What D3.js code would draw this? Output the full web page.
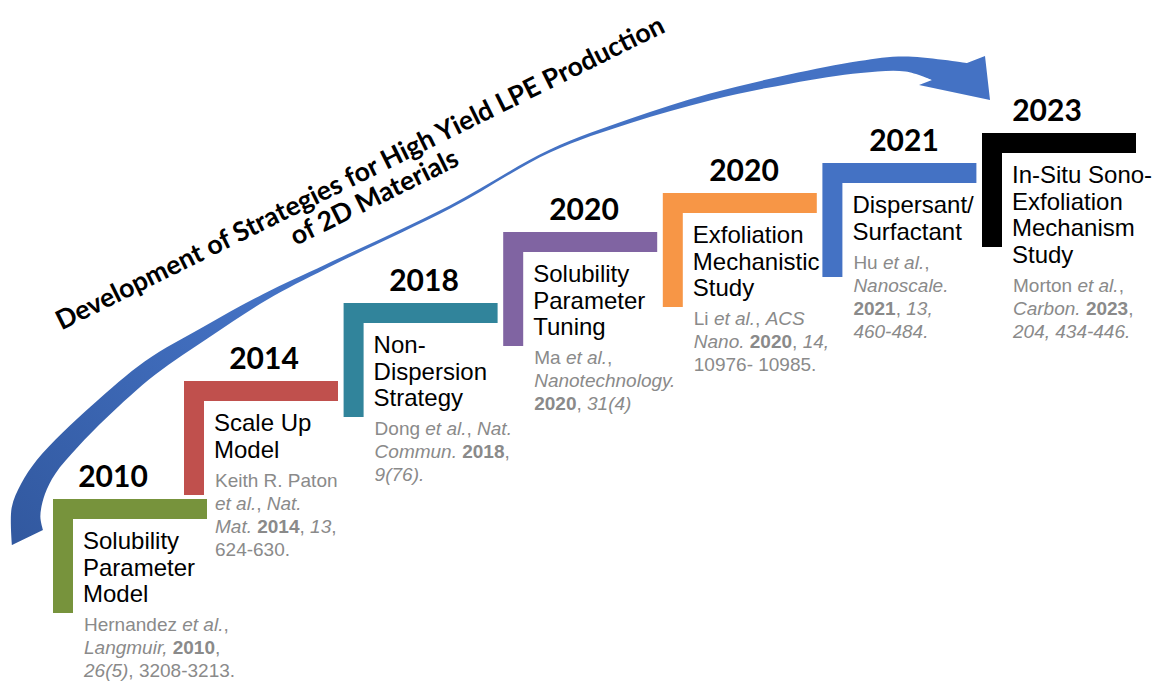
<!DOCTYPE html>
<html>
<head>
  <meta charset='utf-8'>
  <style>
    body { margin: 0; background: #fff; }
    svg { display: block; }
  </style>
  <script src='https://cdn.jsdelivr.net/npm/d3@7/dist/d3.min.js'></script>
</head>
<body>
<script>
  // ---- data ----
  const years = ['2010', '2014', '2018', '2020', '2020', '2021', '2023']
  const titles = [
    ['Solubility', 'Parameter', 'Model'],
    ['Scale Up', 'Model'],
    ['Non-', 'Dispersion', 'Strategy'],
    ['Solubility', 'Parameter', 'Tuning'],
    ['Exfoliation', 'Mechanistic', 'Study'],
    ['Dispersant/', 'Surfactant'],
    ['In-Situ Sono-', 'Exfoliation', 'Mechanism', 'Study']
  ]
  // each reference line = list of [text, style]; n normal, i italic, b bold
  const refs = [
    [[['Hernandez ', 'n'], ['et al.', 'i'], [',', 'n']],
     [['Langmuir, ', 'i'], ['2010', 'b'], [',', 'n']],
     [['26(5)', 'i'], [', 3208-3213.', 'n']]],
    [[['Keith R. Paton', 'n']],
     [['et al.', 'i'], [', ', 'n'], ['Nat.', 'i']],
     [['Mat. ', 'i'], ['2014', 'b'], [', ', 'n'], ['13', 'i'], [',', 'n']],
     [['624-630.', 'n']]],
    [[['Dong ', 'n'], ['et al.', 'i'], [', ', 'n'], ['Nat.', 'i']],
     [['Commun. ', 'i'], ['2018', 'b'], [',', 'n']],
     [['9(76).', 'i']]],
    [[['Ma ', 'n'], ['et al.', 'i'], [',', 'n']],
     [['Nanotechnology.', 'i']],
     [['2020', 'b'], [', ', 'n'], ['31(4)', 'i']]],
    [[['Li ', 'n'], ['et al.', 'i'], [', ', 'n'], ['ACS', 'i']],
     [['Nano. ', 'i'], ['2020', 'b'], [', ', 'n'], ['14,', 'i']],
     [['10976- 10985.', 'n']]],
    [[['Hu ', 'n'], ['et al.', 'i'], [',', 'n']],
     [['Nanoscale.', 'i']],
     [['2021', 'b'], [', ', 'n'], ['13,', 'i']],
     [['460-484.', 'i']]],
    [[['Morton ', 'n'], ['et al.', 'i'], [',', 'n']],
     [['Carbon. ', 'i'], ['2023', 'b'], [',', 'n']],
     [['204, 434-446.', 'i']]]
  ]
  const headline = ['Development of Strategies for High Yield LPE Production', 'of 2D Materials']

  // ---- style ----
  const colors = ['#77933C', '#C0504D', '#31849B', '#8064A2', '#F79646', '#4472C4', '#000000']

  const [width, height] = [1164, 681]
  const barW = 154, barT = 20, barH = 114
  const titleSize = 24, titleLead = 26.5
  const refSize = 19, refLead = 23

  // staircase layout
  const x = d3.scaleLinear().domain([0, 1, 6]).range([53, 184, 982])
  const y = d3.scaleLinear().domain([0, 1, 2, 3, 4, 6]).range([499, 381, 303, 232, 193, 133])
  const yearX = d3.scaleLinear().domain([0, 1, 5, 6]).range([113, 264, 904, 1047])

  const svg = d3.select('body').append('svg')
    .attr('width', width)
    .attr('height', height)

  // ---- curved arrow (centre line: x, y, thickness) ----
  const spine = [[26, 512, 30], [33, 489, 26], [46, 467, 23], [70, 440, 21], [101, 410, 19],
    [150, 368, 17], [208, 331, 12], [265, 297, 7], [327, 266, 4], [450, 207, 3], [550, 151, 2.5],
    [630, 121, 4], [710, 97, 6.5], [790, 79, 9], [860, 67, 12], [905, 64, 15]]
  const upper = [[12, 545]], lower = [[43, 530]]
  spine.forEach((p, i) => {
    const a = spine[Math.max(0, i - 1)], b = spine[Math.min(spine.length - 1, i + 1)]
    let tx = b[0] - a[0], ty = b[1] - a[1]
    const len = Math.hypot(tx, ty)
    tx /= len; ty /= len
    const nx = ty, ny = -tx
    upper.push([p[0] + nx * p[2] / 2, p[1] + ny * p[2] / 2])
    lower.push([p[0] - nx * p[2] / 2, p[1] - ny * p[2] / 2])
  })
  upper.push([967, 63])
  const head = [[985, 56], [990, 100], [919, 85]]
  const lowerBack = [[932, 80]].concat(lower.slice().reverse())

  const curve = d3.line().curve(d3.curveCatmullRom.alpha(0.5))
  const arrowD = curve(upper) +
    head.map(p => 'L' + p[0] + ',' + p[1]).join('') +
    curve(lowerBack).replace(/^M/, 'L') + 'Z'

  const grad = svg.append('defs').append('linearGradient')
    .attr('id', 'arrowFill')
    .attr('gradientUnits', 'userSpaceOnUse')
    .attr('x1', 20).attr('y1', 540).attr('x2', 260).attr('y2', 300)
  grad.append('stop').attr('offset', 0).attr('stop-color', '#3259A0')
  grad.append('stop').attr('offset', 1).attr('stop-color', '#4472C4')

  svg.append('path')
    .attr('d', arrowD)
    .attr('fill', 'url(#arrowFill)')

  // ---- headline along the arc ----
  const hg = svg.append('g')
    .attr('transform', 'translate(364,181) rotate(-26.3)')
    .attr('font-family', 'Lato, sans-serif')
    .attr('font-weight', 700)
    .attr('text-anchor', 'middle')
    .attr('fill', '#000')
  const h1 = hg.append('text').attr('font-size', 22).text(headline[0])
  const fit = 22 * 675 / h1.node().getComputedTextLength()
  h1.attr('font-size', fit)
  hg.append('text')
    .attr('x', 2).attr('y', 28)
    .attr('font-size', fit)
    .text(headline[1])

  // ---- steps ----
  const steps = svg.selectAll('g.step')
    .data(years.map((yr, i) => ({ i, yr, title: titles[i], ref: refs[i], color: colors[i] })))
    .join('g')
    .attr('class', 'step')
    .attr('transform', d => `translate(${x(d.i)},${y(d.i)})`)

  steps.append('path')
    .attr('fill', d => d.color)
    .attr('d', `M0,0H${barW}V${barT}H${barT}V${barH}H0Z`)

  steps.append('text')
    .attr('x', d => yearX(d.i) - x(d.i))
    .attr('y', -12)
    .attr('text-anchor', 'middle')
    .attr('font-family', 'Lato, sans-serif')
    .attr('font-weight', 700)
    .attr('font-size', 30)
    .attr('fill', '#000')
    .text(d => d.yr)

  steps.each(function (d) {
    const g = d3.select(this)
    const y0 = barT + 30
    g.selectAll('text.title')
      .data(d.title)
      .join('text')
      .attr('class', 'title')
      .attr('x', 30)
      .attr('y', (t, k) => y0 + k * titleLead)
      .attr('font-family', '"Liberation Sans", Arial, sans-serif')
      .attr('font-size', titleSize)
      .attr('fill', '#000')
      .text(t => t)

    const r0 = y0 + (d.title.length - 1) * titleLead + 29
    const refLines = g.selectAll('text.ref')
      .data(d.ref)
      .join('text')
      .attr('class', 'ref')
      .attr('x', 31)
      .attr('y', (t, k) => r0 + k * refLead)
      .attr('font-family', '"Liberation Sans", Arial, sans-serif')
      .attr('font-size', refSize)
      .attr('fill', '#8A8A8A')
      .style('white-space', 'pre')
    refLines.selectAll('tspan')
      .data(line => line)
      .join('tspan')
      .attr('font-style', s => s[1] === 'i' ? 'italic' : null)
      .attr('font-weight', s => s[1] === 'b' ? 700 : null)
      .text(s => s[0])
  })
</script>
</body>
</html>
